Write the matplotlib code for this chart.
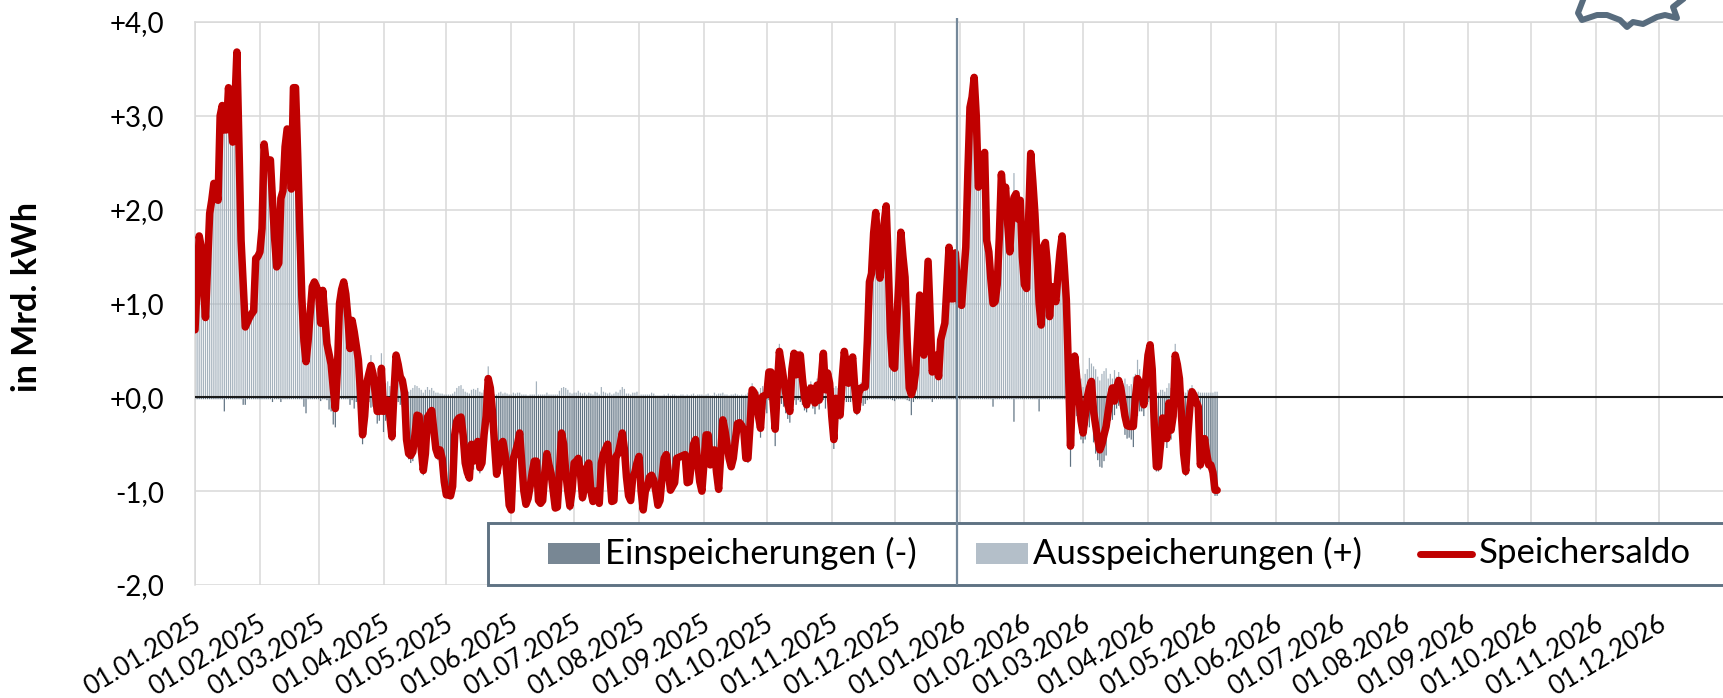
"""Speichersaldo: daily gas storage injection / withdrawal, 2025-2026."""
import pandas as pd
import matplotlib
matplotlib.use("Agg")
import matplotlib.pyplot as plt
from matplotlib.lines import Line2D
from matplotlib.patches import Rectangle
from matplotlib.transforms import ScaledTranslation

plt.rcParams["font.family"] = ["Lato", "DejaVu Sans"]

START = "2025-01-01"
W, H = 1724, 698

# daily values in Mrd. kWh
SALDO = [
    .72, 1.2, 1.72, 1.6, 1.2, .85, 1.4, 1.96, 2.1, 2.28,
    2.2, 2.1, 3.0, 3.11, 2.85, 2.85, 3.3, 3.0, 2.72, 3.1,
    3.68, 2.7, 1.67, 1.2, .75, .8, .85, .89, .92, 1.48,
    1.5, 1.55, 1.8, 2.7, 2.5, 2.5, 2.53, 2.1, 1.7, 1.39,
    1.43, 2.12, 2.2, 2.67, 2.86, 2.84, 2.22, 3.3, 3.3, 2.6,
    1.8, 1.07, .6, .38, .6, .9, 1.18, 1.23, 1.18, 1.11,
    .79, 1.14, .85, .57, .46, .35, .1, -.12, .3, 1.0,
    1.15, 1.23, 1.1, .85, .52, .82, .7, .55, .4, .05,
    -.4, -.2, .15, .25, .34, .25, .05, -.15, -.15, .31,
    -.15, -.1, -.03, -.2, -.42, .05, .45, .35, .22, .18,
    .05, -.45, -.6, -.62, -.58, -.4, -.19, -.2, -.55, -.78,
    -.6, -.21, -.18, -.14, -.35, -.55, -.62, -.56, -.65, -.9,
    -1.04, -1.04, -1.05, -.95, -.4, -.25, -.22, -.21, -.4, -.7,
    -.8, -.86, -.5, -.68, -.55, -.47, -.75, -.7, -.4, -.2,
    .2, .1, -.15, -.5, -.82, -.7, -.5, -.47, -.6, -.85,
    -1.15, -1.2, -.65, -.58, -.5, -.38, -.7, -1.0, -1.14, -1.08,
    -.95, -.8, -.68, -.68, -1.1, -1.13, -1.1, -.8, -.6, -.72,
    -.81, -1.0, -1.18, -1.17, -.8, -.38, -.5, -.8, -1.0, -1.16,
    -1.0, -.7, -.68, -.65, -.8, -1.07, -.95, -.75, -.7, -1.0,
    -1.11, -1.0, -1.0, -1.13, -.7, -.6, -.55, -.5, -.8, -1.11,
    -1.1, -.63, -.6, -.5, -.38, -.55, -.85, -1.05, -1.1, -.85,
    -.8, -.7, -.63, -1.0, -1.2, -1.0, -.95, -.85, -.83, -.88,
    -1.0, -1.15, -1.1, -.85, -.65, -.61, -.8, -.99, -.95, -.91,
    -.65, -.64, -.63, -.62, -.61, -.91, -.9, -.7, -.5, -.45,
    -.7, -.9, -1.0, -.7, -.4, -.4, -.72, -.6, -.56, -.8,
    -.98, -.6, -.24, -.35, -.5, -.65, -.74, -.65, -.45, -.28,
    -.27, -.3, -.35, -.65, -.65, -.3, .08, .05, -.03, -.2,
    -.33, .01, .02, .03, .27, .27, -.05, -.34, .1, .49,
    .35, .2, .05, -.08, -.15, .3, .47, .24, .45, .45,
    .2, 0, -.08, .03, .1, 0, -.06, .13, -.03, .2,
    .47, .08, .26, .15, -.2, -.45, -.01, -.12, -.19, .2,
    .49, .35, .15, .35, .43, .1, -.14, .05, .1, .11,
    .11, .6, 1.23, 1.32, 1.75, 1.97, 1.6, 1.27, 1.5, 1.85,
    2.04, 1.4, .7, .34, .31, .8, 1.2, 1.76, 1.5, 1.28,
    .6, .1, .03, .1, .26, .65, 1.09, .75, .45, .95,
    1.45, .85, .27, .35, .45, .22, .61, .7, .79, 1.2,
    1.6, 1.05, 1.05, 1.54, 1.2, 1.0, .98, 1.3, 1.6, 2.4,
    3.09, 3.2, 3.41, 3.0, 2.24, 2.3, 2.55, 2.61, 1.67, 1.55,
    1.25, 1.0, 1.02, 1.2, 1.7, 2.38, 2.1, 2.24, 1.85, 1.55,
    1.95, 2.13, 2.17, 1.9, 2.1, 1.5, 1.2, 1.16, 1.9, 2.6,
    2.3, 1.96, 1.5, 1.0, .77, 1.6, 1.65, 1.4, .86, 1.18,
    1.1, 1.02, 1.3, 1.55, 1.72, 1.4, 1.04, .3, -.52, .1,
    .44, .2, 0, -.25, -.38, -.2, 0, .1, .17, -.15,
    -.3, -.45, -.56, -.5, -.4, -.31, -.15, 0, .1, -.04,
    .1, .18, .1, -.05, -.2, -.3, -.31, -.31, -.31, 0,
    .2, .15, .05, -.08, .2, .45, .56, .3, -.3, -.74,
    -.74, -.5, -.22, -.35, -.44, -.06, -.35, -.2, .45, .35,
    .2, -.2, -.6, -.79, -.4, -.1, .06, .02, -.05, -.1,
    -.72, -.6, -.44, -.6, -.72, -.72, -.8, -.99, -.99,
]

AUSSPEICHERUNG = [
    .74, 1.22, 1.74, 1.62, 1.22, .87, 1.42, 1.98, 2.12, 2.3,
    2.22, 2.12, 3.02, 3.13, 3.0, 2.87, 3.32, 3.02, 2.74, 3.12,
    3.7, 2.72, 1.69, 1.28, .83, .82, .87, .91, .94, 1.5,
    1.52, 1.57, 1.82, 2.72, 2.52, 2.52, 2.55, 2.15, 1.72, 1.41,
    1.45, 2.17, 2.22, 2.69, 2.88, 2.86, 2.24, 3.32, 3.32, 2.62,
    1.82, 1.09, .7, .55, .62, .92, 1.2, 1.25, 1.2, 1.13,
    .83, 1.16, .87, .6, .59, .5, .39, .2, .35, 1.02,
    1.17, 1.25, 1.12, .87, .6, .85, .82, .6, .45, .2,
    .1, .15, .25, .3, .45, .35, .2, .13, .1, .47,
    .22, .15, .17, .12, .05, .2, .49, .4, .3, .28,
    .08, .05, .06, .08, .1, .13, .12, .1, .08, .05,
    .08, .11, .08, .1, .07, .05, .05, .04, .04, .03,
    .03, .03, .03, .04, .06, .1, .12, .13, .09, .06,
    .05, .04, .08, .09, .08, .1, .06, .05, .08, .12,
    .33, .12, .05, .03, .03, .05, .06, .04, .05, .04,
    .03, .03, .05, .04, .05, .05, .03, .03, .03, .02,
    .03, .03, .03, .17, .03, .03, .03, .03, .05, .03,
    .03, .03, .03, .03, .07, .1, .11, .1, .08, .05,
    .04, .05, .05, .07, .05, .04, .05, .03, .05, .04,
    .03, .06, .05, .03, .11, .06, .05, .04, .05, .03,
    .04, .06, .05, .08, .11, .09, .04, .04, .03, .05,
    .05, .06, .02, .03, .03, .03, .03, .03, .05, .04,
    .02, .02, .02, .02, .03, .02, .04, .02, .03, .03,
    .02, .02, .03, .03, .02, .03, .02, .03, .04, .02,
    .03, .03, .03, .02, .03, .04, .02, .02, .05, .03,
    .04, .04, .05, .03, .03, .02, .03, .03, .04, .03,
    .02, .03, .02, .03, .05, .1, .15, .1, .08, .06,
    .1, .12, .15, .2, .3, .28, .2, .18, .3, .57,
    .42, .3, .22, .15, .12, .35, .5, .32, .48, .5,
    .28, .14, .08, .14, .17, .12, .12, .2, .1, .25,
    .5, .2, .3, .22, .13, .1, .12, .1, .05, .25,
    .52, .4, .2, .4, .46, .16, .05, .12, .16, .2,
    .18, .63, 1.25, 1.34, 1.77, 1.99, 1.62, 1.29, 1.52, 1.87,
    2.06, 1.42, .72, .37, .35, .82, 1.22, 1.78, 1.52, 1.3,
    .63, .14, .22, .15, .28, .67, 1.11, .77, .47, .97,
    1.47, .87, .32, .37, .47, .24, .63, .72, .81, 1.22,
    1.62, 1.07, 1.07, 1.56, 1.22, 1.02, 1.0, 1.32, 1.62, 2.42,
    3.11, 3.22, 3.43, 3.02, 2.26, 2.32, 2.57, 2.63, 1.69, 1.57,
    1.27, 1.1, 1.04, 1.22, 1.72, 2.4, 2.12, 2.26, 1.87, 1.57,
    1.97, 2.39, 2.19, 1.92, 2.12, 1.52, 1.22, 1.18, 1.92, 2.62,
    2.32, 1.98, 1.52, 1.15, .79, 1.62, 1.67, 1.42, .88, 1.2,
    1.12, 1.04, 1.32, 1.57, 1.74, 1.42, 1.06, .42, .22, .35,
    .48, .4, .3, .2, .11, .25, .3, .42, .36, .33,
    .3, .22, .18, .25, .28, .31, .2, .25, .2, .29,
    .22, .27, .2, .15, .2, .14, .12, .14, .22, .25,
    .4, .3, .2, .12, .28, .5, .58, .35, .12, .05,
    .05, .08, .08, .06, .1, .15, .1, .15, .57, .45,
    .3, .12, .06, .05, .08, .1, .13, .08, .05, .06,
    .05, .05, .05, .05, .05, .05, .05, .06, .06,
]

EINSPEICHERUNG = [
    -.02, -.02, -.02, -.02, -.02, -.02, -.02, -.02, -.02, -.02,
    -.02, -.02, -.02, -.02, -.15, -.02, -.02, -.02, -.02, -.02,
    -.02, -.02, -.02, -.08, -.08, -.02, -.02, -.02, -.02, -.02,
    -.02, -.02, -.02, -.02, -.02, -.02, -.02, -.05, -.02, -.02,
    -.02, -.05, -.02, -.02, -.02, -.02, -.02, -.02, -.02, -.02,
    -.02, -.02, -.1, -.17, -.02, -.02, -.02, -.02, -.02, -.02,
    -.04, -.02, -.02, -.03, -.13, -.15, -.29, -.32, -.05, -.02,
    -.02, -.02, -.02, -.02, -.08, -.03, -.12, -.05, -.05, -.15,
    -.5, -.35, -.1, -.05, -.11, -.1, -.15, -.28, -.25, -.16,
    -.37, -.25, -.2, -.32, -.47, -.15, -.04, -.05, -.08, -.1,
    -.03, -.5, -.66, -.7, -.68, -.53, -.31, -.32, -.63, -.83,
    -.68, -.32, -.26, -.24, -.42, -.6, -.67, -.6, -.69, -.93,
    -1.07, -1.07, -1.08, -.99, -.46, -.35, -.34, -.34, -.49, -.76,
    -.85, -.9, -.58, -.77, -.63, -.57, -.81, -.75, -.48, -.32,
    -.13, -.02, -.2, -.53, -.85, -.75, -.56, -.51, -.65, -.89,
    -1.18, -1.23, -.7, -.62, -.55, -.43, -.73, -1.03, -1.17, -1.1,
    -.98, -.83, -.71, -.85, -1.13, -1.16, -1.13, -.83, -.65, -.75,
    -.84, -1.03, -1.21, -1.2, -.87, -.48, -.61, -.9, -1.08, -1.21,
    -1.04, -.75, -.73, -.72, -.85, -1.11, -1.0, -.78, -.75, -1.04,
    -1.14, -1.06, -1.05, -1.16, -.81, -.66, -.6, -.54, -.85, -1.14,
    -1.14, -.69, -.65, -.58, -.49, -.64, -.89, -1.09, -1.13, -.9,
    -.85, -.76, -.65, -1.03, -1.23, -1.03, -.98, -.88, -.88, -.92,
    -1.02, -1.17, -1.12, -.87, -.68, -.63, -.84, -1.01, -.98, -.94,
    -.67, -.66, -.66, -.65, -.63, -.94, -.92, -.73, -.54, -.47,
    -.73, -.93, -1.03, -.72, -.43, -.44, -.74, -.62, -.61, -.83,
    -1.02, -.64, -.29, -.38, -.53, -.67, -.77, -.68, -.49, -.31,
    -.29, -.33, -.37, -.68, -.7, -.4, -.07, -.05, -.11, -.26,
    -.43, -.11, -.13, -.17, -.03, -.02, -.25, -.52, -.2, -.08,
    -.07, -.1, -.17, -.23, -.27, -.05, -.03, -.08, -.03, -.05,
    -.08, -.14, -.16, -.11, -.07, -.12, -.18, -.07, -.13, -.05,
    -.03, -.12, -.04, -.07, -.33, -.55, -.13, -.22, -.24, -.05,
    -.03, -.05, -.05, -.05, -.03, -.06, -.19, -.07, -.06, -.09,
    -.07, -.03, -.02, -.02, -.02, -.02, -.02, -.02, -.02, -.02,
    -.02, -.02, -.02, -.03, -.04, -.02, -.02, -.02, -.02, -.02,
    -.03, -.04, -.19, -.05, -.02, -.02, -.02, -.02, -.02, -.02,
    -.02, -.02, -.05, -.02, -.02, -.02, -.02, -.02, -.02, -.02,
    -.02, -.02, -.02, -.02, -.02, -.02, -.02, -.02, -.02, -.02,
    -.02, -.02, -.02, -.02, -.02, -.02, -.02, -.02, -.02, -.02,
    -.02, -.1, -.02, -.02, -.02, -.02, -.02, -.02, -.02, -.02,
    -.02, -.26, -.02, -.02, -.02, -.02, -.02, -.02, -.02, -.02,
    -.02, -.02, -.02, -.15, -.02, -.02, -.02, -.02, -.02, -.02,
    -.02, -.02, -.02, -.02, -.02, -.02, -.02, -.12, -.74, -.25,
    -.04, -.2, -.3, -.45, -.49, -.45, -.3, -.32, -.19, -.48,
    -.6, -.67, -.74, -.75, -.68, -.62, -.35, -.25, -.24, -.19,
    -.12, -.09, -.1, -.2, -.4, -.44, -.43, -.45, -.53, -.25,
    -.2, -.15, -.15, -.2, -.08, -.05, -.02, -.05, -.42, -.79,
    -.79, -.58, -.3, -.41, -.54, -.21, -.45, -.35, -.12, -.1,
    -.1, -.32, -.66, -.84, -.48, -.2, -.07, -.06, -.1, -.16,
    -.77, -.65, -.49, -.65, -.77, -.77, -.85, -1.05, -1.05,
]

Y_TICKS = [-2, -1, 0, 1, 2, 3, 4]
Y_LABELS = ["-2,0", "-1,0", "+0,0", "+1,0", "+2,0", "+3,0", "+4,0"]

LEGEND_BOX_COLOR = "#5f7283"
EIN_COLOR = "#788794"
AUS_COLOR = "#b4bfc9"
SALDO_COLOR = "#c00000"
GRID_COLOR = "#d9d9d9"

# cut-off map outline of the publisher logo, in image pixels
LOGO_X = [1583, 1578, 1582, 1597, 1607, 1620, 1627, 1633, 1643, 1657, 1665, 1677, 1673, 1682]
LOGO_Y = [0, 13, 20, 15, 15, 20, 27, 22, 24, 17, 15, 18, 7, 0]


def fx(x):
    return x / W


def fy(y):
    return 1 - y / H


fig = plt.figure(figsize=(W / 100, H / 100), dpi=100)
ax = fig.add_axes([fx(195), fy(585), fx(W - 195), (585 - 22) / H])

days = pd.date_range(START, periods=len(SALDO))
months = pd.date_range("2025-01-01", "2026-12-01", freq="MS")

# snap off, otherwise the 2 px bar pitch turns into a blocky moire
ax.bar(days, AUSSPEICHERUNG, width=0.58, color="#a5b2bd", linewidth=0, snap=False, zorder=2)
ax.bar(days, EINSPEICHERUNG, width=0.58, color="#5f7282", linewidth=0, snap=False, zorder=2)
ax.axhline(0, color="#1a1a1a", lw=1.5, zorder=3)
ax.plot(days, SALDO, color=SALDO_COLOR, lw=5.4, solid_joinstyle="round",
        solid_capstyle="round", zorder=4)
ax.axvline(pd.Timestamp("2025-12-31"), ymax=1.007, color="#74889a", lw=1.6,
           solid_capstyle="butt", clip_on=False, zorder=7)

ax.set_xlim(pd.Timestamp("2025-01-01"), pd.Timestamp("2027-01-01"))
ax.set_ylim(-2, 4)
ax.set_yticks(Y_TICKS, Y_LABELS)
ax.set_xticks(months, [m.strftime("%d.%m.%Y") for m in months])
ax.tick_params(axis="y", length=0, pad=22, labelsize=20)
ax.tick_params(axis="x", length=0, pad=19, labelsize=18.5)
shift = ScaledTranslation(-2 / 100, 0, fig.dpi_scale_trans)
for lab in ax.get_xticklabels():
    lab.set_rotation(31)
    lab.set_ha("right")
    lab.set_rotation_mode("anchor")
    lab.set_transform(lab.get_transform() + shift)
ax.grid(True, color=GRID_COLOR, lw=1.1, zorder=0)
ax.set_axisbelow(True)
for name, sp in ax.spines.items():
    sp.set_visible(name in ("left", "top"))
    sp.set_color(GRID_COLOR)
    sp.set_linewidth(1.1)

fig.text(fx(27), fy(297), "in Mrd. kWh", rotation=90, ha="center", va="center",
         fontsize=24.5, fontweight="bold")

# legend box runs off the right edge of the image
box = Rectangle((fx(488), fy(585)), fx(1400), (585 - 523) / H, transform=fig.transFigure,
                facecolor="white", edgecolor=LEGEND_BOX_COLOR, lw=2.1, zorder=5,
                clip_on=False)
ax.add_patch(box)
for x0, x1, col in [(548, 600, EIN_COLOR), (976, 1028, AUS_COLOR)]:
    ax.add_patch(Rectangle((fx(x0), fy(564)), fx(x1 - x0), 21 / H, transform=fig.transFigure,
                           facecolor=col, edgecolor="none", zorder=6, clip_on=False))
ax.add_line(Line2D([fx(1420), fx(1472)], [fy(553.5), fy(553.5)], transform=fig.transFigure,
                   color=SALDO_COLOR, lw=5, solid_capstyle="round", zorder=6, clip_on=False))
for x, txt in [(605, "Einspeicherungen (-)"), (1033, "Ausspeicherungen (+)"), (1479, "Speichersaldo")]:
    fig.text(fx(x), fy(553), txt, ha="left", va="center", fontsize=25, zorder=8)

fig.add_artist(Line2D([fx(v) for v in LOGO_X], [fy(v) for v in LOGO_Y], color="#586c7e",
                      lw=4.3, solid_joinstyle="round"))

fig.savefig("out.png", dpi=100)
